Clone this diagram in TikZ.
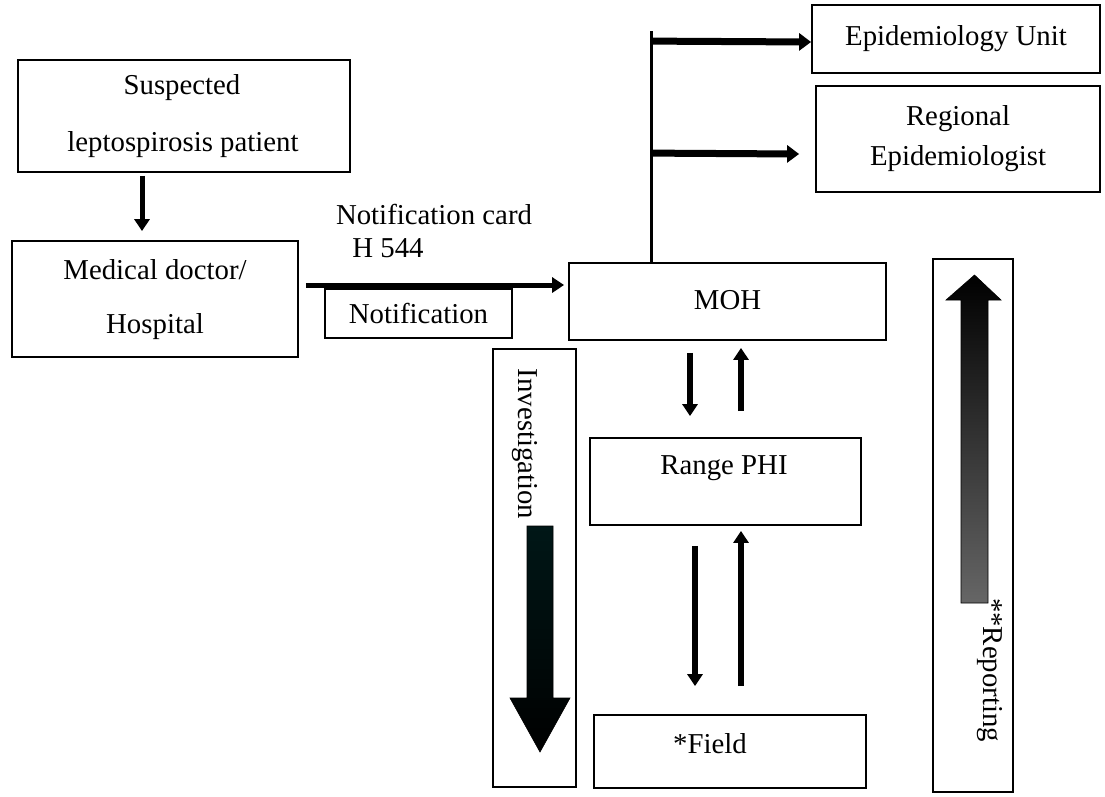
\documentclass[tikz,border=0pt]{standalone}
\usepackage{fontspec}
\setmainfont{Liberation Serif}
\usetikzlibrary{arrows.meta,calc}
\begin{document}
\begin{tikzpicture}[x=1pt,y=-1pt,
  font=\fontsize{28.8}{36}\selectfont,
  box/.style={draw, line width=1.8pt, inner sep=0pt, align=center},
  txt/.style={inner sep=0pt, align=center},
  arr/.style={line width=5pt, -{Triangle[length=12pt,width=15pt]}},
  tarr/.style={line width=7pt, -{Triangle[length=12pt,width=17pt]}},
  varr/.style={line width=6pt, -{Triangle[length=12pt,width=15pt]}},
  trunk/.style={line width=3pt}]
\useasboundingbox (0,0) rectangle (1105,796);
% boxes
\node[box, minimum width=332pt, minimum height=112pt] (susp) at (184,116) {};
\node[txt] (t1) at (182,88) {Suspected};
\node[txt] (t2) at (183,145) {leptospirosis patient};
\node[box, minimum width=286pt, minimum height=116pt] (med) at (155,299) {};
\node[txt] (t3) at (155,270) {Medical doctor/};
\node[txt] (t4) at (155,327) {Hospital};
\node[txt] (t5) at (434,214) {Notification card};
\node[txt] (t6) at (388,248) {H 544};
\node[box, minimum width=187pt, minimum height=49pt] (noti) at (418.5,313.5) {\raisebox{-4pt}{Notification}};
\node[box, minimum width=317pt, minimum height=77pt] (moh) at (727.5,301.5) {\raisebox{4pt}{MOH}};
\node[box, minimum width=288pt, minimum height=68pt] (epi) at (956,39) {\raisebox{4pt}{Epidemiology Unit}};
\node[box, minimum width=284pt, minimum height=106pt] (reg) at (958,139) {\raisebox{4pt}{Regional}\\Epidemiologist};
\node[box, minimum width=271pt, minimum height=87pt] (rphi) at (725.5,481.5) {};
\node[txt] (t7) at (724,468) {Range PHI};
\node[box, minimum width=272pt, minimum height=73pt] (field) at (730,751.5) {};
\node[txt] (t8) at (710,744) {*Field};
\node[box, minimum width=83pt, minimum height=438pt] (inv) at (534.5,568) {};
\node[txt, rotate=-90] (t9) at (525,444) {Investigation};
\node[box, minimum width=80pt, minimum height=533pt] (rep) at (973,525.5) {};
\node[txt, rotate=-90] (t10) at (990,670) {**Reporting};
% fat arrows
\shade[top color=black!85!cyan!60!black, bottom color=black, draw=black, line width=0.6pt]
  (527,526) -- (553,526) -- (553,698) -- (570,698) -- (540,752) -- (510,698) -- (527,698) -- cycle;
\shade[top color=black, bottom color=black!60, draw=black, line width=0.6pt]
  (961,603) -- (988,603) -- (988,300) -- (1001,300) -- (974.5,275) -- (946,300) -- (961,300) -- cycle;
% connectors
\draw[arr] ($(susp.south)+(-42,3)$) -- ($(med.north)+(-13,-9)$);
\draw[arr] ($(med.east)+(7,-14)$) -- ($(moh.west)+(-4,-16.5)$);
\coordinate (bj) at ($(moh.north)+(-76.5,0)$);
\coordinate (tj) at ($(bj)+(0,-231)$);
\draw[trunk] (bj) -- (tj);
\draw[tarr] ($(bj)+(0,-221)$) -- ($(epi.west)+(0,3)$);
\draw[tarr] ($(bj)+(0,-109)$) -- ($(reg.west)+(-16,15)$);
\draw[varr] ($(moh.south)+(-37.5,12)$) -- ($(rphi.north)+(-35.5,-21)$);
\draw[varr] ($(rphi.north)+(15.5,-26)$) -- ($(moh.south)+(13.5,7)$);
\draw[varr] ($(rphi.south)+(-30.5,20)$) -- ($(field.north)+(-35,-28)$);
\draw[varr] ($(field.north)+(11,-28)$) -- ($(rphi.south)+(15.5,5)$);
\end{tikzpicture}
\end{document}
